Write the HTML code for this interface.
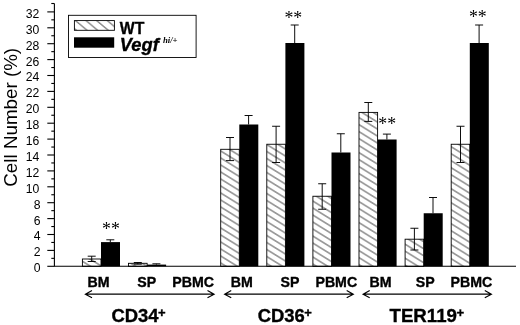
<!DOCTYPE html>
<html><head><meta charset="utf-8"><title>Cell Number chart</title>
<style>
html,body{margin:0;padding:0;background:#fff;}
body{width:520px;height:325px;overflow:hidden;}
svg{display:block;will-change:transform;}
text{font-family:"Liberation Sans",Arial,sans-serif;fill:#000;}
.b{font-weight:bold;stroke:#000;stroke-width:0.35px;}
.ser{font-family:"Liberation Serif","Times New Roman",serif;}
</style></head><body>
<svg width="520" height="325" viewBox="0 0 520 325">
<defs>
<pattern id="h" patternUnits="userSpaceOnUse" width="11.3" height="7" x="2" y="1.5">
<path d="M-11.3,-7 L22.6,14 M-11.3,0 L22.6,21 M-11.3,-14 L22.6,7" stroke="#000" stroke-width="0.78" fill="none"/>
</pattern>
<pattern id="hl" patternUnits="userSpaceOnUse" width="10.6" height="8.9" x="73.1" y="18.6">
<path d="M-10.6,-8.9 L21.2,17.8 M-10.6,0 L21.2,26.7 M-10.6,-17.8 L21.2,8.9" stroke="#000" stroke-width="0.85" fill="none"/>
</pattern>
</defs>
<rect width="520" height="325" fill="#fff"/>

<g stroke="#000" stroke-width="1.1" fill="none" shape-rendering="auto">
<path d="M54.4,3.5 V266.3 H516"/>
<path d="M51.3,3.5 H54.4"/>
<path d="M47.3,266.30 H54.4"/>
<path d="M51.3,258.35 H54.4"/>
<path d="M47.3,250.40 H54.4"/>
<path d="M51.3,242.45 H54.4"/>
<path d="M47.3,234.50 H54.4"/>
<path d="M51.3,226.55 H54.4"/>
<path d="M47.3,218.60 H54.4"/>
<path d="M51.3,210.65 H54.4"/>
<path d="M47.3,202.70 H54.4"/>
<path d="M51.3,194.75 H54.4"/>
<path d="M47.3,186.80 H54.4"/>
<path d="M51.3,178.85 H54.4"/>
<path d="M47.3,170.90 H54.4"/>
<path d="M51.3,162.95 H54.4"/>
<path d="M47.3,155.00 H54.4"/>
<path d="M51.3,147.05 H54.4"/>
<path d="M47.3,139.10 H54.4"/>
<path d="M51.3,131.15 H54.4"/>
<path d="M47.3,123.20 H54.4"/>
<path d="M51.3,115.25 H54.4"/>
<path d="M47.3,107.30 H54.4"/>
<path d="M51.3,99.35 H54.4"/>
<path d="M47.3,91.40 H54.4"/>
<path d="M51.3,83.45 H54.4"/>
<path d="M47.3,75.50 H54.4"/>
<path d="M51.3,67.55 H54.4"/>
<path d="M47.3,59.60 H54.4"/>
<path d="M51.3,51.65 H54.4"/>
<path d="M47.3,43.70 H54.4"/>
<path d="M51.3,35.75 H54.4"/>
<path d="M47.3,27.80 H54.4"/>
<path d="M51.3,19.85 H54.4"/>
<path d="M47.3,11.90 H54.4"/>
</g>
<text transform="translate(40.5,272.20) scale(0.985,1)" font-size="12.4" text-anchor="end">0</text>
<text transform="translate(40.5,256.30) scale(0.985,1)" font-size="12.4" text-anchor="end">2</text>
<text transform="translate(40.5,240.40) scale(0.985,1)" font-size="12.4" text-anchor="end">4</text>
<text transform="translate(40.5,224.50) scale(0.985,1)" font-size="12.4" text-anchor="end">6</text>
<text transform="translate(40.5,208.60) scale(0.985,1)" font-size="12.4" text-anchor="end">8</text>
<text transform="translate(39.3,192.70) scale(0.985,1)" font-size="12.4" text-anchor="end">10</text>
<text transform="translate(39.3,176.80) scale(0.985,1)" font-size="12.4" text-anchor="end">12</text>
<text transform="translate(39.3,160.90) scale(0.985,1)" font-size="12.4" text-anchor="end">14</text>
<text transform="translate(39.3,145.00) scale(0.985,1)" font-size="12.4" text-anchor="end">16</text>
<text transform="translate(39.3,129.10) scale(0.985,1)" font-size="12.4" text-anchor="end">18</text>
<text transform="translate(39.3,113.20) scale(0.985,1)" font-size="12.4" text-anchor="end">20</text>
<text transform="translate(39.3,97.30) scale(0.985,1)" font-size="12.4" text-anchor="end">22</text>
<text transform="translate(39.3,81.40) scale(0.985,1)" font-size="12.4" text-anchor="end">24</text>
<text transform="translate(39.3,65.50) scale(0.985,1)" font-size="12.4" text-anchor="end">26</text>
<text transform="translate(39.3,49.60) scale(0.985,1)" font-size="12.4" text-anchor="end">28</text>
<text transform="translate(39.3,33.70) scale(0.985,1)" font-size="12.4" text-anchor="end">30</text>
<text transform="translate(39.3,17.80) scale(0.985,1)" font-size="12.4" text-anchor="end">32</text>
<text transform="translate(16.9,117.3) rotate(-90) scale(1,0.96)" font-size="18.8" text-anchor="middle">Cell Number (%)</text>
<rect x="82.40" y="259.00" width="18.6" height="7.30" fill="url(#h)" stroke="#000" stroke-width="0.9"/>
<rect x="101.00" y="242.10" width="19.00" height="24.20" fill="#000"/>
<path d="M91.70,256.2 V261.5 M87.70,256.2 H95.70 M87.70,261.5 H95.70" stroke="#000" stroke-width="0.95" fill="none"/>
<path d="M110.30,239.8 V242.1 M106.30,239.8 H114.30" stroke="#000" stroke-width="0.95" fill="none"/>
<rect x="128.50" y="263.30" width="18.6" height="3.00" fill="url(#h)" stroke="#000" stroke-width="0.9"/>
<rect x="147.10" y="264.60" width="19.00" height="1.70" fill="#000"/>
<path d="M137.80,262.5 V264.2 M133.80,262.5 H141.80 M133.80,264.2 H141.80" stroke="#000" stroke-width="0.95" fill="none"/>
<path d="M156.40,263.8 V264.6 M152.40,263.8 H160.40" stroke="#000" stroke-width="0.95" fill="none"/>
<rect x="220.70" y="149.30" width="18.6" height="117.00" fill="url(#h)" stroke="#000" stroke-width="0.9"/>
<rect x="239.30" y="124.50" width="19.00" height="141.80" fill="#000"/>
<path d="M230.00,137.5 V160.6 M226.00,137.5 H234.00 M226.00,160.6 H234.00" stroke="#000" stroke-width="0.95" fill="none"/>
<path d="M248.60,115.5 V124.5 M244.60,115.5 H252.60" stroke="#000" stroke-width="0.95" fill="none"/>
<rect x="266.80" y="144.25" width="18.6" height="122.05" fill="url(#h)" stroke="#000" stroke-width="0.9"/>
<rect x="285.40" y="43.00" width="19.00" height="223.30" fill="#000"/>
<path d="M276.10,126.25 V162.5 M272.10,126.25 H280.10 M272.10,162.5 H280.10" stroke="#000" stroke-width="0.95" fill="none"/>
<path d="M294.70,25.0 V43.0 M290.70,25.0 H298.70" stroke="#000" stroke-width="0.95" fill="none"/>
<rect x="312.90" y="196.25" width="18.6" height="70.05" fill="url(#h)" stroke="#000" stroke-width="0.9"/>
<rect x="331.50" y="152.50" width="19.00" height="113.80" fill="#000"/>
<path d="M322.20,183.75 V209.25 M318.20,183.75 H326.20 M318.20,209.25 H326.20" stroke="#000" stroke-width="0.95" fill="none"/>
<path d="M340.80,133.75 V152.5 M336.80,133.75 H344.80" stroke="#000" stroke-width="0.95" fill="none"/>
<rect x="359.00" y="112.40" width="18.6" height="153.90" fill="url(#h)" stroke="#000" stroke-width="0.9"/>
<rect x="377.60" y="139.50" width="19.00" height="126.80" fill="#000"/>
<path d="M368.30,102.5 V121.4 M364.30,102.5 H372.30 M364.30,121.4 H372.30" stroke="#000" stroke-width="0.95" fill="none"/>
<path d="M386.90,134.1 V139.5 M382.90,134.1 H390.90" stroke="#000" stroke-width="0.95" fill="none"/>
<rect x="405.10" y="239.20" width="18.6" height="27.10" fill="url(#h)" stroke="#000" stroke-width="0.9"/>
<rect x="423.70" y="213.25" width="19.00" height="53.05" fill="#000"/>
<path d="M414.40,228.25 V250.0 M410.40,228.25 H418.40 M410.40,250.0 H418.40" stroke="#000" stroke-width="0.95" fill="none"/>
<path d="M433.00,197.5 V213.25 M429.00,197.5 H437.00" stroke="#000" stroke-width="0.95" fill="none"/>
<rect x="451.20" y="144.25" width="18.6" height="122.05" fill="url(#h)" stroke="#000" stroke-width="0.9"/>
<rect x="469.80" y="43.00" width="19.00" height="223.30" fill="#000"/>
<path d="M460.50,126.25 V162.5 M456.50,126.25 H464.50 M456.50,162.5 H464.50" stroke="#000" stroke-width="0.95" fill="none"/>
<path d="M479.10,25.0 V43.0 M475.10,25.0 H483.10" stroke="#000" stroke-width="0.95" fill="none"/>
<text class="ser" x="111" y="234.6" font-size="17.8" text-anchor="middle">**</text>
<text class="ser" x="293.3" y="23.7" font-size="17.8" text-anchor="middle">**</text>
<text class="ser" x="387.2" y="129.7" font-size="17.8" text-anchor="middle">**</text>
<text class="ser" x="477.8" y="23.3" font-size="17.8" text-anchor="middle">**</text>
<rect x="68.5" y="15.3" width="127.6" height="42.2" fill="#fff" stroke="#000" stroke-width="0.9"/>
<rect x="74.4" y="20.6" width="40" height="9.7" fill="url(#hl)" stroke="#000" stroke-width="0.9"/>
<rect x="74" y="37.3" width="40.2" height="10.4" fill="#000"/>
<text class="b" transform="translate(119.8,33.8) scale(0.96,1)" font-size="16.4">WT</text>
<text class="b" transform="translate(119.8,51.1) scale(1.03,1)" font-size="17.8" font-style="italic">Vegf</text>
<text class="ser" transform="translate(162.9,43.4)" font-size="8.7" font-weight="bold" font-style="italic">hi/+</text>
<text class="b" transform="translate(98.6,287.3) scale(0.985,1)" font-size="14.4" text-anchor="middle">BM</text>
<text class="b" transform="translate(146.8,287.3) scale(0.985,1)" font-size="14.4" text-anchor="middle">SP</text>
<text class="b" transform="translate(193.20000000000002,287.3) scale(0.985,1)" font-size="14.4" text-anchor="middle">PBMC</text>
<text class="b" transform="translate(241.8,287.3) scale(0.985,1)" font-size="14.4" text-anchor="middle">BM</text>
<text class="b" transform="translate(290.0,287.3) scale(0.985,1)" font-size="14.4" text-anchor="middle">SP</text>
<text class="b" transform="translate(336.3,287.3) scale(0.985,1)" font-size="14.4" text-anchor="middle">PBMC</text>
<text class="b" transform="translate(380.5,287.3) scale(0.985,1)" font-size="14.4" text-anchor="middle">BM</text>
<text class="b" transform="translate(425.3,287.3) scale(0.985,1)" font-size="14.4" text-anchor="middle">SP</text>
<text class="b" transform="translate(471.40000000000003,287.3) scale(0.985,1)" font-size="14.4" text-anchor="middle">PBMC</text>
<path d="M85.4,294.15 H214.1 M92.0,290.54999999999995 L85.4,294.15 L92.0,297.75 M207.5,290.54999999999995 L214.1,294.15 L207.5,297.75" stroke="#000" stroke-width="1.15" fill="none"/>
<path d="M224.65,294.15 H353.3 M231.25,290.54999999999995 L224.65,294.15 L231.25,297.75 M346.7,290.54999999999995 L353.3,294.15 L346.7,297.75" stroke="#000" stroke-width="1.15" fill="none"/>
<path d="M363.09999999999997,294.15 H491.40000000000003 M369.7,290.54999999999995 L363.09999999999997,294.15 L369.7,297.75 M484.8,290.54999999999995 L491.40000000000003,294.15 L484.8,297.75" stroke="#000" stroke-width="1.15" fill="none"/>
<text class="b" transform="translate(111.4,322) scale(1.04,1)" font-size="17.7">CD34<tspan font-size="12.5" dy="-5.4" dx="-0.5">+</tspan></text>
<text class="b" transform="translate(257.7,322) scale(1.04,1)" font-size="17.7">CD36<tspan font-size="12.5" dy="-5.4" dx="-0.5">+</tspan></text>
<text class="b" transform="translate(389.5,322) scale(1.055,1)" font-size="17.7">TER119<tspan font-size="12.5" dy="-5.4" dx="-0.5">+</tspan></text>
</svg></body></html>
